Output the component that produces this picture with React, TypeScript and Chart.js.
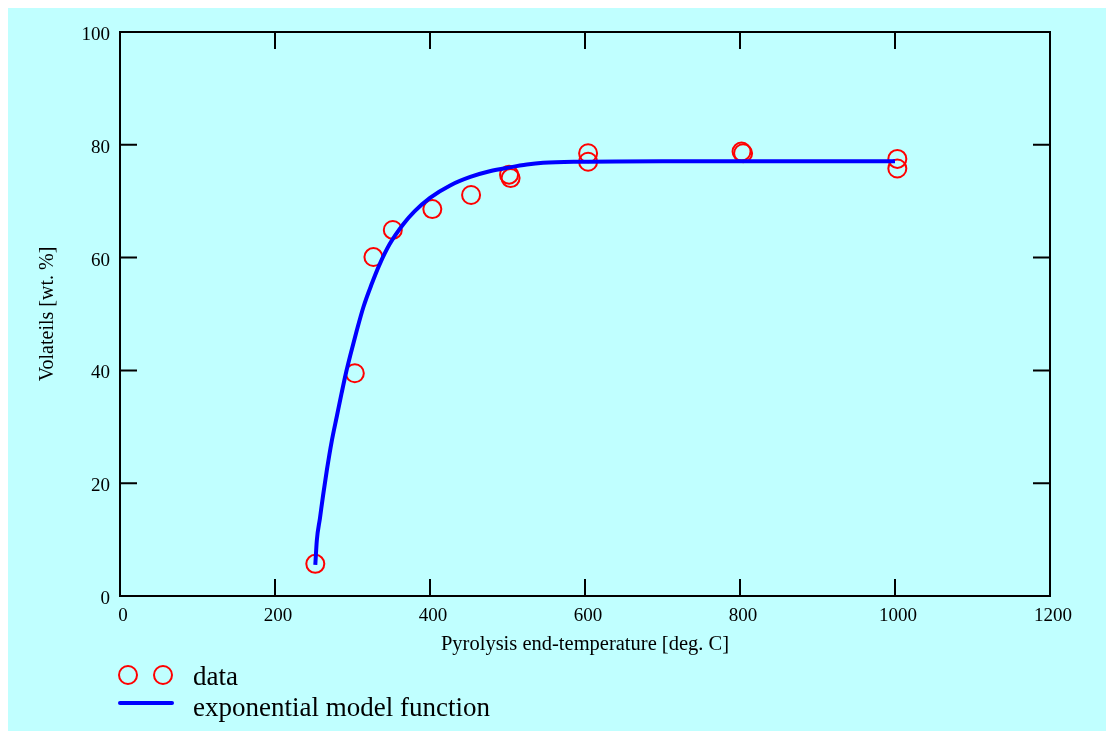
import React, { useEffect, useRef } from "react";
import { Chart, registerables } from "chart.js";

Chart.register(...registerables);

// Measured data points (temperature in deg C, volatiles in wt. %)
const dataX = [252, 303, 327, 352, 403, 453, 502, 504, 604, 604, 802, 804, 1003, 1003];
const dataY = [5.7, 39.5, 60.1, 64.9, 68.6, 71.1, 74.7, 74.1, 78.5, 77.0, 78.8, 78.5, 77.5, 75.8];

// Model curve
const modelX = [252, 254, 258, 262, 267, 273, 280, 286, 292, 297, 305, 314, 325, 335, 348, 366, 380, 400, 426, 452, 477, 503, 525, 546, 594, 700, 800, 900, 1000];
const modelY = [5.5, 9.9, 13.8, 17.8, 22.4, 27.3, 32.0, 36.0, 39.8, 42.6, 46.8, 51.2, 55.4, 58.8, 62.4, 66.0, 68.2, 70.6, 72.8, 74.3, 75.3, 76.0, 76.5, 76.8, 77.0, 77.1, 77.1, 77.1, 77.1];

const xTicks = [0, 200, 400, 600, 800, 1000, 1200];
const yTicks = [0, 20, 40, 60, 80, 100];

const xTitle = "Pyrolysis end-temperature [deg. C]";
const yTitle = "Volateils [wt. %]";
const legendData = "data";
const legendModel = "exponential model function";

const FONT = "'Liberation Serif', 'Times New Roman', Times, serif";
const W = 1098;
const H = 723;

const framePlugin = {
  id: "frameTicks",
  afterDraw(chart: any) {
    const { ctx, chartArea } = chart;
    const xs = chart.scales.x;
    const ys = chart.scales.y;
    const { left, right, top, bottom } = chartArea;
    const TL = 17;
    ctx.save();
    ctx.strokeStyle = "#000000";
    ctx.lineWidth = 2;
    ctx.beginPath();
    ctx.rect(left, top, right - left, bottom - top);
    ctx.stroke();
    ctx.beginPath();
    for (const v of xTicks) {
      const px = xs.getPixelForValue(v);
      ctx.moveTo(px, bottom);
      ctx.lineTo(px, bottom - TL);
      ctx.moveTo(px, top);
      ctx.lineTo(px, top + TL);
    }
    for (const v of yTicks) {
      const py = ys.getPixelForValue(v);
      ctx.moveTo(left, py);
      ctx.lineTo(left + TL, py);
      ctx.moveTo(right, py);
      ctx.lineTo(right - TL, py);
    }
    ctx.stroke();

    // Legend
    ctx.strokeStyle = "#ff0000";
    ctx.lineWidth = 2;
    ctx.beginPath();
    ctx.arc(120, 667, 9, 0, Math.PI * 2);
    ctx.stroke();
    ctx.beginPath();
    ctx.arc(155, 667, 9, 0, Math.PI * 2);
    ctx.stroke();
    ctx.strokeStyle = "#0000ff";
    ctx.lineWidth = 4;
    ctx.lineCap = "round";
    ctx.beginPath();
    ctx.moveTo(112, 695);
    ctx.lineTo(164, 695);
    ctx.stroke();
    ctx.fillStyle = "#000000";
    ctx.font = `27px ${FONT}`;
    ctx.textBaseline = "alphabetic";
    ctx.textAlign = "left";
    ctx.fillText(legendData, 185, 677);
    ctx.fillText(legendModel, 185, 708);
    ctx.restore();
  },
};

export default function App() {
  const ref = useRef<HTMLCanvasElement | null>(null);
  useEffect(() => {
    document.body.style.margin = "8px 0 0 8px";
    document.body.style.overflow = "hidden";
    if (!ref.current) return;
    const chart = new Chart(ref.current, {
      type: "scatter",
      data: {
        datasets: [
          {
            type: "line",
            label: legendModel,
            data: modelX.map((x, i) => ({ x, y: modelY[i] })),
            borderColor: "#0000ff",
            borderWidth: 4,
            pointRadius: 0,
            fill: false,
            cubicInterpolationMode: "monotone",
          } as any,
          {
            type: "scatter",
            label: legendData,
            data: dataX.map((x, i) => ({ x, y: dataY[i] })),
            borderColor: "#ff0000",
            backgroundColor: "rgba(0,0,0,0)",
            pointRadius: 9,
            pointBorderWidth: 2,
            pointHoverRadius: 9,
            pointStyle: "circle",
          } as any,
        ],
      },
      options: {
        responsive: false,
        animation: false,
        events: [],
        layout: { padding: { left: 0, top: 24, right: 56, bottom: 0 } },
        plugins: {
          legend: { display: false },
          tooltip: { enabled: false },
        },
        scales: {
          x: {
            type: "linear",
            min: 0,
            max: 1200,
            afterFit: (s: any) => {
              s.height = H - 588;
            },
            afterBuildTicks: (s: any) => {
              s.ticks = xTicks.map((v) => ({ value: v }));
            },
            ticks: {
              color: "#000000",
              font: { family: FONT, size: 19 },
              padding: 9,
              labelOffset: 3,
              maxRotation: 0,
              callback: (v: any) => String(v),
            },
            grid: { display: false, drawTicks: false },
            border: { display: false },
            title: {
              display: true,
              text: xTitle,
              color: "#000000",
              font: { family: FONT, size: 20.5 },
              padding: { top: 0, bottom: 74 },
            },
          },
          y: {
            type: "linear",
            min: 0,
            max: 100,
            afterFit: (s: any) => {
              s.width = 112;
            },
            afterBuildTicks: (s: any) => {
              s.ticks = yTicks.map((v) => ({ value: v }));
            },
            ticks: {
              color: "#000000",
              font: { family: FONT, size: 19 },
              padding: 10,
              labelOffset: 3,
              callback: (v: any) => String(v),
            },
            grid: { display: false, drawTicks: false },
            border: { display: false },
            title: {
              display: true,
              text: yTitle,
              color: "#000000",
              font: { family: FONT, size: 20 },
              padding: { top: 28, bottom: 0 },
            },
          },
        },
      },
      plugins: [framePlugin],
    });
    return () => chart.destroy();
  }, []);
  return (
    <div style={{ width: W, height: H, background: "#c0ffff" }}>
      <canvas ref={ref} width={W} height={H} style={{ display: "block" }} />
    </div>
  );
}
